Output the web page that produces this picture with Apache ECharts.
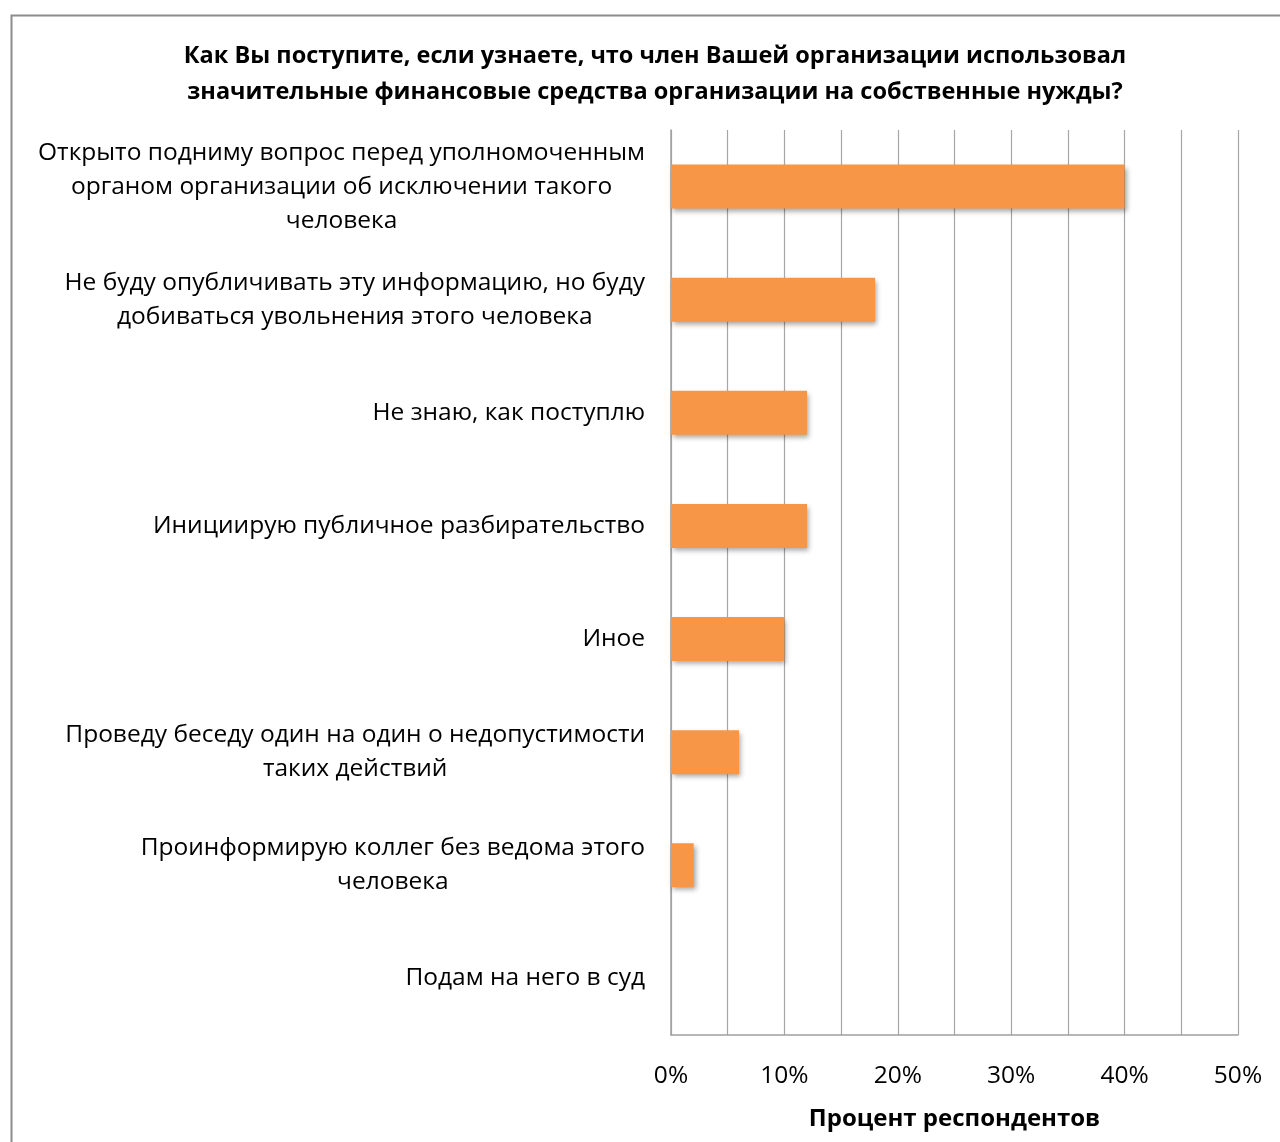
<!DOCTYPE html>
<html><head><meta charset="utf-8">
<script src="https://cdn.jsdelivr.net/npm/echarts@6/dist/echarts.min.js"></script>
<style>html,body{margin:0;padding:0;background:#fff}#c{width:1280px;height:1142px}</style>
</head><body><div id="c"></div>
<script>
const titleText = 'Как Вы поступите, если узнаете, что член Вашей организации использовал\nзначительные финансовые средства организации на собственные нужды?';
const categories = [
  'Открыто подниму вопрос перед уполномоченным\nорганом организации об исключении такого\nчеловека',
  'Не буду опубличивать эту информацию, но буду\nдобиваться увольнения этого человека',
  'Не знаю, как поступлю',
  'Инициирую публичное разбирательство',
  'Иное',
  'Проведу беседу один на один о недопустимости\nтаких действий',
  'Проинформирую коллег без ведома этого\nчеловека',
  'Подам на него в суд'
];
const values = [40, 18, 12, 12, 10, 6, 2, 0];
const axisName = 'Процент респондентов';
const FONT = '"Open Sans", "Liberation Sans", sans-serif';

const chart = echarts.init(document.getElementById('c'));
chart.setOption({
  backgroundColor: '#fff',
  animation: false,
  graphic: [{
    type: 'rect', left: 9, top: 13, shape: {width: 1300, height: 1200},
    style: {fill: 'none', stroke: '#8c8c8c', lineWidth: 2}, silent: true
  }],
  title: {
    text: titleText, left: 650, top: 33, textAlign: 'center',
    textStyle: {fontFamily: FONT, fontSize: 23.5, fontWeight: 'bold', color: '#000', lineHeight: 36}
  },
  grid: {left: 671, right: 42, top: 130, bottom: 107, containLabel: false},
  xAxis: {
    type: 'value', min: 0, max: 50, interval: 10,
    axisLine: {show: true, lineStyle: {color: '#a0a0a0', width: 1.5}},
    axisTick: {show: false},
    splitLine: {show: true, lineStyle: {color: '#a6a6a6', width: 1.2}},
    minorTick: {show: false, splitNumber: 2},
    minorSplitLine: {show: true, lineStyle: {color: '#a6a6a6', width: 1.2}},
    axisLabel: {formatter: v => v + '%', fontFamily: FONT, fontSize: 24.5, color: '#000', margin: 29},
    name: axisName, nameLocation: 'middle', nameGap: 72,
    nameTextStyle: {fontFamily: FONT, fontSize: 24, fontWeight: 'bold', color: '#000'}
  },
  yAxis: {
    type: 'category', data: categories, inverse: true,
    axisLine: {show: true, lineStyle: {color: '#a0a0a0', width: 1.5}},
    axisTick: {show: false},
    splitLine: {show: false},
    axisLabel: {
      margin: 26, color: '#000', fontFamily: FONT, fontSize: 24.5, lineHeight: 34,
      formatter: s => s.split('\n').map(l => '{c|' + l + '}').join('\n'),
      rich: {c: {align: 'center', fontFamily: FONT, fontSize: 24.5, lineHeight: 34, color: '#000'}}
    }
  },
  series: [{
    type: 'bar', data: values, barWidth: 44,
    itemStyle: {
      color: '#F79646', borderWidth: 0,
      shadowColor: 'rgba(0,0,0,0.35)', shadowBlur: 5, shadowOffsetX: 2, shadowOffsetY: 3
    }
  }]
});
</script></body></html>
